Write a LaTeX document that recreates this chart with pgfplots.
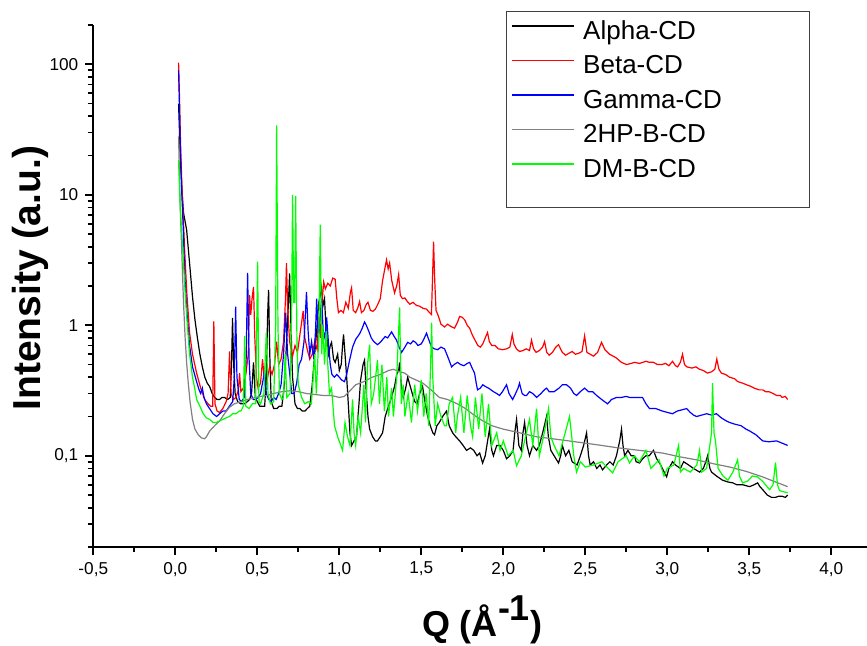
\documentclass[border=0pt]{standalone}
\usepackage{fontspec}
\setmainfont{Liberation Sans}
\usepackage{pgfplots}
\pgfplotsset{compat=1.18}
\definecolor{cgray}{RGB}{128,128,128}
\definecolor{cgreen}{RGB}{0,255,0}
\begin{document}
\begin{tikzpicture}
\useasboundingbox (-46.65pt,-49.5pt) rectangle (386.85pt,273.5pt);
\begin{axis}[at={(0pt,0pt)}, anchor=south west, scale only axis,
 width=386.85pt, height=261pt,
 xmin=-0.5, xmax=4.218, ymin=0.02, ymax=200, ymode=log,
 clip=false,
 axis x line*=bottom, axis y line*=left,
 axis line style={line width=0.9pt},
 every tick/.style={black, line width=0.9pt},
 tick align=outside, major tick length=4pt, minor tick length=2.5pt,
 xtick={-0.5,0,0.5,1,1.5,2,2.5,3,3.5,4},
 xticklabels={{-0,5},{0,0},{0,5},{1,0},{1,5},{2,0},{2,5},{3,0},{3,5},{4,0}},
 minor x tick num=1,
 ytick={0.1,1,10,100},
 yticklabels={{0,1},{1},{10},{100}},
 extra y ticks={0.02,0.03,0.04,0.05,0.06,0.07,0.08,0.09,0.2,0.3,0.4,0.5,0.6,0.7,0.8,0.9,2,3,4,5,6,7,8,9,20,30,40,50,60,70,80,90,200},
 extra y tick labels={},
 extra y tick style={major tick length=2.8pt},
 tick label style={font=\fontsize{8.6}{10}\selectfont},
 xlabel={Q (Å\raisebox{0.45em}{-1})},
 xlabel style={at={(axis description cs:0.5024,-0.1718)}, anchor=base, font=\bfseries\fontsize{18}{18}\selectfont},
 ylabel={Intensity (a.u.)},
 ylabel style={at={(axis description cs:-0.0815,0.515)}, anchor=center, font=\bfseries\fontsize{19.5}{19.5}\selectfont},
 legend style={draw=none, fill=none, at={(axis description cs:0.5399,1.009)}, anchor=north west,
   inner sep=0pt, outer sep=0pt, row sep=5.25pt, font=\fontsize{13}{13}\selectfont,
   nodes={inner sep=0pt, text height=9.5pt, text depth=2.5pt},
   /tikz/every odd column/.append style={column sep=4.5pt}},
 legend cell align=left,
 legend image code/.code={\draw[#1] (0pt,3.2pt) -- (31pt,3.2pt);},
 every axis plot/.append style={line width=0.6pt},
]
\addplot[black] coordinates {
(0.02,50) (0.03,20) (0.04,11) (0.05,7.3) (0.069,5.4) (0.087,3.0) (0.105,1.65) (0.12,1.1) (0.135,0.8) (0.15,0.6) (0.165,0.48) (0.18,0.4) (0.195,0.36) (0.209,0.34) (0.225,0.30) (0.24,0.28) (0.255,0.27) (0.27,0.27) (0.285,0.28) (0.30,0.28) (0.32,0.27) (0.335,0.28) (0.343,0.5) (0.349,1.14) (0.356,0.5) (0.365,0.3) (0.38,0.26) (0.40,0.25) (0.42,0.25) (0.44,0.26) (0.453,0.27) (0.465,0.3) (0.477,0.52) (0.488,0.28) (0.50,0.26) (0.515,0.24) (0.53,0.24) (0.545,0.24) (0.555,0.4) (0.563,1.2) (0.569,1.87) (0.576,0.6) (0.585,0.26) (0.60,0.23) (0.62,0.23) (0.635,0.24) (0.65,0.24) (0.665,0.35) (0.68,0.8) (0.69,1.5) (0.697,2.5) (0.705,1.0) (0.715,0.4) (0.73,0.25) (0.745,0.23) (0.76,0.23) (0.775,0.22) (0.79,0.22) (0.805,0.23) (0.82,0.24) (0.835,0.35) (0.85,0.6) (0.862,0.9) (0.875,1.5) (0.885,1.7) (0.892,1.94) (0.9,1.4) (0.91,1.6) (0.92,0.9) (0.935,0.6) (0.945,0.7) (0.953,0.74) (0.965,0.55) (0.975,0.52) (0.99,0.60) (1.0,0.45) (1.012,0.5) (1.02,0.7) (1.026,0.85) (1.035,0.6) (1.045,0.4) (1.055,0.25) (1.065,0.15) (1.075,0.12) (1.09,0.13) (1.105,0.14) (1.12,0.25) (1.13,0.38) (1.145,0.5) (1.154,0.54) (1.165,0.3) (1.175,0.2) (1.185,0.16) (1.203,0.14) (1.22,0.13) (1.233,0.13) (1.25,0.14) (1.264,0.15) (1.28,0.2) (1.295,0.23) (1.31,0.26) (1.325,0.3) (1.337,0.34) (1.35,0.42) (1.362,0.45) (1.368,0.52) (1.378,0.35) (1.39,0.28) (1.405,0.33) (1.417,0.40) (1.43,0.35) (1.445,0.3) (1.46,0.26) (1.475,0.25) (1.49,0.3) (1.508,0.34) (1.52,0.27) (1.539,0.20) (1.555,0.17) (1.57,0.15) (1.581,0.145) (1.595,0.17) (1.61,0.18) (1.63,0.2) (1.654,0.22) (1.67,0.17) (1.691,0.15) (1.71,0.14) (1.734,0.13) (1.755,0.12) (1.776,0.11) (1.80,0.115) (1.82,0.11) (1.84,0.10) (1.856,0.105) (1.874,0.088) (1.89,0.1) (1.90,0.12) (1.916,0.16) (1.93,0.11) (1.94,0.10) (1.96,0.12) (1.98,0.12) (2.0,0.11) (2.02,0.095) (2.04,0.1) (2.06,0.11) (2.07,0.15) (2.081,0.19) (2.095,0.12) (2.11,0.11) (2.12,0.15) (2.13,0.18) (2.145,0.12) (2.16,0.10) (2.18,0.12) (2.203,0.11) (2.22,0.12) (2.24,0.15) (2.264,0.20) (2.275,0.14) (2.29,0.11) (2.31,0.1) (2.337,0.088) (2.35,0.1) (2.36,0.12) (2.38,0.10) (2.40,0.11) (2.42,0.09) (2.45,0.085) (2.47,0.1) (2.49,0.12) (2.508,0.15) (2.52,0.1) (2.53,0.085) (2.55,0.09) (2.57,0.08) (2.59,0.085) (2.605,0.078) (2.63,0.085) (2.65,0.09) (2.67,0.085) (2.69,0.1) (2.71,0.13) (2.721,0.16) (2.73,0.12) (2.74,0.1) (2.76,0.11) (2.78,0.1) (2.80,0.1) (2.81,0.09) (2.831,0.088) (2.85,0.095) (2.87,0.10) (2.89,0.1) (2.916,0.11) (2.935,0.095) (2.953,0.088) (2.97,0.08) (2.996,0.069) (3.01,0.08) (3.032,0.09) (3.05,0.085) (3.08,0.08) (3.10,0.09) (3.13,0.085) (3.16,0.08) (3.197,0.075) (3.22,0.08) (3.235,0.09) (3.246,0.10) (3.26,0.08) (3.27,0.075) (3.30,0.07) (3.337,0.065) (3.37,0.063) (3.40,0.062) (3.423,0.060) (3.46,0.06) (3.502,0.058) (3.53,0.06) (3.551,0.062) (3.565,0.058) (3.582,0.055) (3.61,0.05) (3.636,0.048) (3.66,0.048) (3.68,0.049) (3.70,0.049) (3.72,0.048) (3.734,0.050)
};
\addlegendentry{Alpha-CD}
\addplot[red] coordinates {
(0.02,103) (0.025,60) (0.032,25) (0.04,12) (0.057,3.8) (0.07,1.8) (0.087,0.88) (0.105,0.6) (0.13,0.43) (0.155,0.33) (0.179,0.27) (0.2,0.25) (0.215,0.24) (0.228,0.24) (0.235,1.07) (0.242,0.25) (0.255,0.22) (0.27,0.215) (0.29,0.23) (0.31,0.26) (0.322,0.3) (0.331,0.63) (0.34,0.3) (0.355,0.27) (0.37,0.28) (0.385,0.32) (0.392,0.43) (0.40,0.31) (0.415,0.33) (0.43,0.42) (0.445,0.6) (0.453,1.71) (0.46,1.2) (0.468,1.6) (0.477,1.97) (0.485,0.8) (0.495,0.4) (0.505,0.33) (0.52,0.36) (0.532,0.55) (0.545,0.36) (0.56,0.38) (0.575,0.48) (0.59,0.42) (0.605,0.5) (0.618,0.75) (0.63,0.5) (0.645,0.55) (0.66,0.75) (0.672,1.6) (0.678,3.0) (0.685,1.4) (0.697,0.75) (0.715,0.58) (0.73,0.7) (0.745,0.62) (0.76,0.85) (0.78,1.29) (0.79,0.8) (0.805,0.65) (0.82,0.55) (0.835,0.6) (0.85,0.75) (0.865,0.65) (0.875,1.17) (0.885,0.8) (0.895,1.5) (0.905,2.15) (0.915,1.9) (0.93,2.1) (0.945,2.0) (0.96,2.3) (0.975,2.25) (0.985,1.6) (0.995,1.25) (1.01,1.3) (1.025,1.25) (1.04,1.5) (1.055,1.35) (1.068,1.8) (1.075,1.94) (1.085,1.3) (1.10,1.25) (1.112,1.35) (1.124,1.52) (1.135,1.25) (1.15,1.3) (1.165,1.45) (1.175,1.5) (1.19,1.3) (1.205,1.28) (1.22,1.33) (1.235,1.45) (1.25,1.6) (1.264,2.2) (1.275,2.6) (1.288,3.17) (1.298,2.7) (1.307,3.0) (1.32,2.2) (1.337,1.77) (1.35,2.0) (1.362,2.45) (1.372,1.7) (1.385,1.6) (1.40,1.62) (1.415,1.52) (1.43,1.45) (1.45,1.5) (1.47,1.42) (1.49,1.4) (1.51,1.35) (1.532,1.33) (1.55,1.25) (1.562,1.21) (1.569,2.4) (1.575,4.37) (1.582,2.2) (1.59,1.3) (1.605,1.17) (1.62,1.02) (1.642,0.97) (1.66,1.02) (1.68,0.98) (1.703,0.95) (1.72,1.05) (1.734,1.17) (1.75,1.15) (1.765,1.1) (1.78,1.0) (1.795,0.95) (1.81,0.85) (1.825,0.78) (1.845,0.7) (1.86,0.68) (1.875,0.72) (1.89,0.8) (1.904,0.88) (1.915,0.75) (1.93,0.7) (1.95,0.70) (1.97,0.66) (1.996,0.65) (2.02,0.66) (2.04,0.68) (2.055,0.85) (2.065,0.72) (2.08,0.66) (2.099,0.63) (2.12,0.64) (2.14,0.66) (2.16,0.64) (2.172,0.77) (2.185,0.66) (2.2,0.62) (2.22,0.64) (2.24,0.68) (2.252,0.75) (2.265,0.62) (2.28,0.59) (2.30,0.62) (2.32,0.68) (2.337,0.71) (2.36,0.62) (2.38,0.59) (2.40,0.61) (2.42,0.63) (2.44,0.60) (2.46,0.61) (2.48,0.63) (2.496,0.83) (2.51,0.62) (2.53,0.60) (2.55,0.58) (2.575,0.62) (2.599,0.74) (2.62,0.65) (2.648,0.6) (2.67,0.58) (2.691,0.56) (2.72,0.52) (2.752,0.50) (2.78,0.51) (2.80,0.52) (2.831,0.51) (2.85,0.52) (2.87,0.53) (2.89,0.52) (2.916,0.52) (2.94,0.50) (2.965,0.50) (2.99,0.51) (3.01,0.49) (3.032,0.53) (3.05,0.49) (3.063,0.48) (3.08,0.52) (3.093,0.60) (3.105,0.50) (3.12,0.48) (3.15,0.47) (3.175,0.48) (3.197,0.46) (3.22,0.45) (3.245,0.43) (3.27,0.44) (3.29,0.46) (3.302,0.55) (3.315,0.46) (3.33,0.43) (3.355,0.42) (3.38,0.40) (3.41,0.39) (3.43,0.37) (3.46,0.36) (3.484,0.35) (3.51,0.34) (3.53,0.33) (3.56,0.32) (3.582,0.32) (3.60,0.31) (3.62,0.31) (3.645,0.30) (3.667,0.29) (3.69,0.29) (3.70,0.28) (3.72,0.285) (3.734,0.27)
};
\addlegendentry{Beta-CD}
\addplot[blue] coordinates {
(0.02,90) (0.025,50) (0.032,20) (0.04,10) (0.05,5) (0.057,2.5) (0.07,1.3) (0.087,0.7) (0.105,0.48) (0.13,0.37) (0.145,0.32) (0.155,0.30) (0.165,0.33) (0.175,0.28) (0.19,0.25) (0.209,0.23) (0.23,0.21) (0.252,0.20) (0.27,0.21) (0.29,0.22) (0.31,0.22) (0.33,0.24) (0.35,0.26) (0.36,0.4) (0.368,1.39) (0.376,0.4) (0.39,0.27) (0.405,0.26) (0.42,0.28) (0.432,0.55) (0.441,2.52) (0.45,0.55) (0.46,0.3) (0.475,0.27) (0.49,0.27) (0.505,0.28) (0.52,0.3) (0.535,0.38) (0.545,0.45) (0.555,0.3) (0.57,0.27) (0.585,0.26) (0.60,0.28) (0.615,0.27) (0.63,0.3) (0.645,0.35) (0.66,0.6) (0.673,1.25) (0.685,0.6) (0.70,0.4) (0.71,0.3) (0.725,0.3) (0.74,0.36) (0.755,0.5) (0.77,0.55) (0.785,0.75) (0.80,1.8) (0.81,0.9) (0.82,0.6) (0.831,0.75) (0.845,0.55) (0.855,0.9) (0.862,1.6) (0.872,0.8) (0.882,1.1) (0.892,1.6) (0.902,0.9) (0.912,0.8) (0.923,1.15) (0.935,0.7) (0.945,0.5) (0.955,0.42) (0.97,0.40) (0.985,0.42) (1.0,0.40) (1.015,0.38) (1.032,0.37) (1.045,0.42) (1.06,0.52) (1.081,0.68) (1.10,0.78) (1.124,0.86) (1.14,0.95) (1.154,1.06) (1.165,1.0) (1.18,0.9) (1.195,0.8) (1.21,0.75) (1.233,0.71) (1.25,0.74) (1.265,0.78) (1.28,0.82) (1.295,0.8) (1.319,0.89) (1.335,0.82) (1.349,0.77) (1.365,0.68) (1.38,0.62) (1.40,0.68) (1.417,0.74) (1.435,0.72) (1.45,0.76) (1.465,0.74) (1.48,0.70) (1.50,0.72) (1.515,0.78) (1.532,0.87) (1.545,0.78) (1.563,0.68) (1.58,0.66) (1.60,0.65) (1.62,0.68) (1.642,0.66) (1.66,0.58) (1.685,0.48) (1.70,0.50) (1.721,0.52) (1.74,0.50) (1.76,0.49) (1.78,0.51) (1.795,0.52) (1.81,0.47) (1.825,0.43) (1.835,0.36) (1.843,0.32) (1.86,0.33) (1.875,0.35) (1.89,0.34) (1.91,0.33) (1.94,0.31) (1.96,0.30) (1.977,0.29) (1.995,0.31) (2.02,0.35) (2.035,0.30) (2.057,0.27) (2.075,0.30) (2.09,0.33) (2.099,0.36) (2.115,0.30) (2.13,0.29) (2.142,0.29) (2.16,0.31) (2.18,0.30) (2.203,0.28) (2.23,0.30) (2.25,0.32) (2.264,0.33) (2.28,0.31) (2.31,0.31) (2.34,0.33) (2.36,0.35) (2.386,0.35) (2.41,0.33) (2.43,0.30) (2.447,0.29) (2.47,0.31) (2.496,0.33) (2.52,0.31) (2.545,0.31) (2.569,0.29) (2.60,0.27) (2.636,0.25) (2.66,0.27) (2.691,0.28) (2.72,0.28) (2.75,0.285) (2.77,0.28) (2.81,0.28) (2.849,0.28) (2.87,0.25) (2.892,0.23) (2.93,0.23) (2.971,0.22) (3.0,0.215) (3.032,0.21) (3.06,0.22) (3.09,0.225) (3.118,0.23) (3.14,0.215) (3.16,0.205) (3.179,0.20) (3.21,0.205) (3.24,0.21) (3.27,0.205) (3.30,0.21) (3.33,0.195) (3.36,0.185) (3.38,0.18) (3.41,0.175) (3.45,0.17) (3.48,0.16) (3.502,0.155) (3.54,0.145) (3.582,0.13) (3.62,0.128) (3.667,0.13) (3.70,0.125) (3.734,0.12)
};
\addlegendentry{Gamma-CD}
\addplot[cgray] coordinates {
(0.02,28) (0.025,15) (0.03,8) (0.04,3.5) (0.05,1.5) (0.06,0.8) (0.07,0.5) (0.08,0.35) (0.09,0.26) (0.105,0.19) (0.12,0.16) (0.14,0.145) (0.16,0.137) (0.179,0.135) (0.19,0.14) (0.21,0.155) (0.24,0.17) (0.27,0.185) (0.30,0.21) (0.33,0.235) (0.36,0.25) (0.40,0.26) (0.44,0.27) (0.48,0.278) (0.52,0.285) (0.56,0.29) (0.60,0.30) (0.65,0.31) (0.70,0.315) (0.75,0.31) (0.80,0.30) (0.85,0.295) (0.90,0.29) (0.95,0.29) (1.00,0.28) (1.03,0.285) (1.06,0.31) (1.10,0.35) (1.15,0.37) (1.20,0.40) (1.25,0.42) (1.30,0.45) (1.33,0.46) (1.37,0.44) (1.40,0.43) (1.43,0.40) (1.47,0.38) (1.51,0.36) (1.56,0.32) (1.61,0.28) (1.66,0.27) (1.72,0.25) (1.77,0.23) (1.81,0.21) (1.86,0.19) (1.93,0.17) (2.0,0.16) (2.1,0.15) (2.2,0.14) (2.3,0.135) (2.4,0.13) (2.5,0.125) (2.6,0.12) (2.7,0.115) (2.83,0.11) (2.97,0.105) (3.08,0.098) (3.18,0.093) (3.28,0.087) (3.38,0.082) (3.48,0.076) (3.58,0.069) (3.66,0.063) (3.734,0.058)
};
\addlegendentry{2HP-B-CD}
\addplot[cgreen] coordinates {
(0.02,18.5) (0.025,12) (0.03,8) (0.04,5) (0.05,3) (0.06,1.8) (0.069,1.2) (0.087,0.6) (0.105,0.4) (0.12,0.32) (0.13,0.27) (0.15,0.24) (0.17,0.21) (0.19,0.195) (0.21,0.19) (0.23,0.18) (0.25,0.18) (0.27,0.185) (0.29,0.19) (0.31,0.195) (0.33,0.20) (0.35,0.21) (0.37,0.21) (0.39,0.22)
(0.40,0.22) (0.415,0.24) (0.423,0.83) (0.43,0.24) (0.45,0.23) (0.47,0.25) (0.49,0.25) (0.502,3.07) (0.51,0.26) (0.52,0.25) (0.54,0.3) (0.555,0.88) (0.565,0.3) (0.58,0.25) (0.60,0.26) (0.612,1.0) (0.618,34) (0.626,1.0) (0.635,0.3) (0.65,0.27) (0.66,0.28) (0.67,0.6) (0.68,0.28) (0.70,0.3) (0.71,1.5) (0.715,10) (0.722,1.5) (0.728,1.5) (0.734,9.8) (0.742,0.7) (0.75,0.35) (0.77,0.28) (0.79,0.25) (0.81,0.26) (0.83,0.25) (0.85,0.6) (0.86,0.3) (0.875,0.8) (0.884,5.9) (0.893,0.6) (0.90,1.0) (0.91,0.5) (0.92,0.9) (0.93,0.5) (0.94,0.3) (0.953,0.33) (0.971,0.17) (0.99,0.14) (1.02,0.11) (1.035,0.18) (1.05,0.14) (1.065,0.12) (1.081,0.27) (1.09,0.15) (1.10,0.12) (1.115,0.2) (1.13,0.15) (1.15,0.35) (1.16,0.18) (1.172,0.5) (1.185,0.71) (1.195,0.25) (1.21,0.3) (1.233,0.54) (1.245,0.25) (1.26,0.5) (1.275,0.22) (1.29,0.4) (1.30,0.2) (1.319,0.33) (1.33,0.2) (1.35,0.4) (1.368,1.37) (1.378,0.25) (1.39,0.35) (1.40,0.2) (1.42,0.3) (1.44,0.18) (1.46,0.35) (1.477,0.22) (1.50,0.38) (1.515,0.2) (1.53,0.3) (1.545,0.17) (1.557,0.5) (1.563,1.05) (1.57,0.4) (1.585,0.17) (1.60,0.25) (1.62,0.2) (1.642,0.17) (1.654,0.17) (1.67,0.25) (1.691,0.28) (1.71,0.15) (1.72,0.2) (1.74,0.28) (1.76,0.15) (1.78,0.29) (1.80,0.17) (1.813,0.14) (1.83,0.28) (1.85,0.16) (1.87,0.3) (1.89,0.14) (1.91,0.25) (1.93,0.12) (1.96,0.15) (1.98,0.11) (2.00,0.13) (2.03,0.10) (2.06,0.11) (2.081,0.084) (2.11,0.10) (2.13,0.13) (2.16,0.19) (2.18,0.12) (2.203,0.23) (2.22,0.10) (2.25,0.15) (2.276,0.23) (2.29,0.14) (2.31,0.12) (2.34,0.10) (2.404,0.20) (2.43,0.10) (2.447,0.075) (2.47,0.09) (2.50,0.082) (2.55,0.085) (2.60,0.09) (2.667,0.074) (2.70,0.09) (2.75,0.10) (2.77,0.088) (2.80,0.10) (2.83,0.09) (2.87,0.11) (2.90,0.08) (2.95,0.093) (2.98,0.07) (3.00,0.08) (3.04,0.085) (3.069,0.12) (3.08,0.075) (3.10,0.08) (3.14,0.075) (3.18,0.085) (3.197,0.11) (3.21,0.075) (3.24,0.08) (3.27,0.15) (3.276,0.36) (3.285,0.15) (3.294,0.13) (3.31,0.08) (3.34,0.07) (3.37,0.065) (3.40,0.075) (3.429,0.093) (3.44,0.07) (3.459,0.062) (3.49,0.064) (3.52,0.07) (3.55,0.069) (3.58,0.064) (3.624,0.055) (3.645,0.06) (3.66,0.089) (3.672,0.06) (3.685,0.054) (3.71,0.053) (3.734,0.052)
};
\addlegendentry{DM-B-CD}
\draw[line width=0.5pt, black!75] (axis description cs:0.5343,1.0262) rectangle (axis description cs:0.9263,0.6513);
\end{axis}
\end{tikzpicture}
\end{document}
